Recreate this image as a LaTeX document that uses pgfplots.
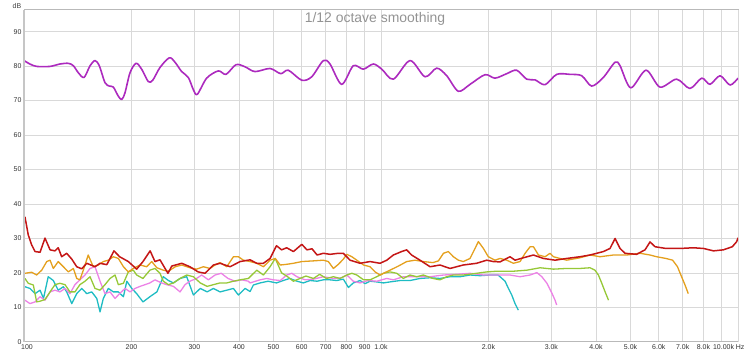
\documentclass[border=0pt]{standalone}
\usepackage{pgfplots}
\pgfplotsset{compat=1.18}
\usepackage{fontspec}
\setmainfont{Liberation Sans}
\definecolor{cMag}{RGB}{172,42,190}
\definecolor{cRed}{RGB}{196,22,22}
\definecolor{cOra}{RGB}{228,160,30}
\definecolor{cGre}{RGB}{150,200,55}
\definecolor{cPin}{RGB}{236,130,230}
\definecolor{cCya}{RGB}{30,188,195}
\begin{document}
\begin{tikzpicture}
\begin{axis}[name=ax, at={(0,0)}, anchor=south west,
  scale only axis, width=714bp, height=332bp,
  xmode=log, xmin=100, xmax=10000, ymin=0, ymax=96.3,
  xtick={100,200,300,400,500,600,700,800,900,1000,2000,3000,4000,5000,6000,7000,8000,9000},
  xticklabels={\hspace*{6bp}100,200,300,400,500,600,700,800,900,1.0k,2.0k,3.0k,4.0k,5.0k,6.0k,7.0k,8.0k,{}},
  extra x ticks={10000}, extra x tick labels={10.00k Hz},
  extra x tick style={xticklabel style={anchor=north east, xshift=10bp}},
  ytick={0,10,...,90},
  grid=major, major grid style={draw=gray!30, line width=0.8bp},
  axis line style={draw=gray!55, line width=1bp},
  major tick length=0pt, minor tick length=0pt,
  tick label style={font=\fontsize{7}{8}\selectfont, text=black!80},
  /pgf/number format/assume math mode=true,
  xticklabel style={yshift=0.5bp},
  yticklabel style={xshift=1bp},
  every axis plot/.append style={line width=1.3bp, line join=round},
]
% magenta
\addplot[cMag, line width=1.6bp, smooth, tension=0.5] coordinates {(100,81.6)(103.9,80.6)(108.5,79.9)(118.2,79.9)(126.1,80.6)(133.1,80.8)(137.5,80.1)(141.9,78.1)(147.3,76.7)(153.1,80.1)(158.1,81.6)(162.5,80.1)(168.6,75.2)(173.4,74.2)(177.9,73.9)(183.7,71.3)(187.8,70.3)(191.9,72.3)(198.2,78.1)(206,80.8)(213.6,79.1)(222.9,75.5)(229.4,75.9)(240.4,79.6)(255.3,82.4)(264.9,81.1)(276.5,78.4)(288.6,76.7)(298,73.2)(305.8,71.8)(324.9,76.5)(350.2,78.6)(368,77.6)(392.5,80.4)(415.9,79.8)(443.6,78.4)(488.7,79.3)(523.6,77.8)(550,78.8)(599.8,75.9)(639.7,76.9)(689.4,81.6)(719.7,80.6)(776.2,74.7)(836.4,80.1)(892.2,79.1)(951.5,80.6)(1005,79.1)(1083,76.2)(1206,81.6)(1328,76.9)(1432,79.4)(1528,77.2)(1646,72.7)(1776,74.7)(1956,77.5)(2086,76.5)(2250,77.8)(2399,78.8)(2559,76.2)(2701,76.0)(2881,74.6)(3106,77.6)(3383,77.6)(3650,77.2)(3892,74.2)(4195,76.7)(4524,81.1)(4672,80.1)(5005,73.7)(5525,78.8)(6046,73.9)(6733,76.2)(7337,73.5)(7914,76.5)(8348,74.7)(8906,77.2)(9497,74.5)(10000,76.5)};
% cyan
\addplot[cCya] coordinates {(100.6,16.0)(103.9,15.5)(107.4,14.0)(110.9,15.0)(113.4,12.6)(116.9,18.9)(120.8,17.8)(124.7,15.0)(128.9,16.0)(131.7,14.5)(136.1,11.1)(140.5,14.0)(145.1,15.5)(149.9,14.0)(154.8,14.5)(159.9,12.6)(163.3,8.7)(166.8,12.6)(172.3,15.5)(178.0,14.5)(183.8,14.5)(189.9,13.1)(194.1,17.6)(200.4,15.5)(206.8,14.0)(215.4,11.6)(225.2,13.1)(235.6,14.5)(245.6,18.9)(253.8,17.8)(262.2,17.1)(273.6,18.4)(285.6,18.9)(298.2,13.6)(311.7,15.5)(325.8,14.5)(339.2,15.5)(354.1,14.5)(369.9,15.0)(386.0,15.5)(398.6,13.6)(416.2,15.5)(429.8,14.6)(439.0,16.5)(458.4,17.1)(482.8,17.6)(509.6,17.1)(532.1,17.8)(555.4,18.4)(581.6,17.6)(606.1,17.1)(632.9,17.8)(662.3,17.6)(689.5,18.0)(719.9,18.0)(751.4,17.8)(784.5,18.2)(810.4,15.8)(836.4,17.1)(873.7,17.8)(902.3,16.9)(931.9,17.6)(972.6,17.4)(1016,17.1)(1060,17.4)(1131,17.8)(1206,17.8)(1286,18.4)(1372,18.6)(1463,18.4)(1561,18.9)(1665,18.9)(1776,19.4)(1894,19.2)(2020,19.4)(2127,19.4)(2155,18.9)(2226,17.6)(2275,15.5)(2324,13.6)(2374,11.1)(2425,9.2)};
% pink
\addplot[cPin] coordinates {(100.6,12.1)(103.9,11.1)(107.4,11.6)(110.9,13.1)(114.5,12.1)(118.3,14.5)(122.1,15.0)(126.1,14.5)(130.3,15.5)(134.5,14.0)(138.9,16.6)(143.4,18.0)(148.2,19.4)(153.1,21.3)(158.1,21.8)(163.3,17.6)(168.6,14.0)(174.2,14.5)(179.9,12.6)(185.3,14.0)(191.9,15.5)(198.2,14.5)(204.6,15.5)(211.4,16.1)(218.3,16.6)(225.2,17.1)(232.7,18.0)(242.9,17.1)(251.0,16.6)(262.2,16.1)(273.6,14.5)(282.5,16.6)(291.5,17.6)(304.4,18.4)(314.5,19.4)(328.5,18.0)(342.8,19.4)(356.9,19.9)(372.8,18.4)(389.9,17.6)(406.7,18.0)(425.1,17.6)(429.8,17.1)(458.4,18.0)(478.5,18.4)(499.6,18.0)(522.2,17.8)(544.3,19.4)(562.6,19.9)(581.6,18.9)(612.7,18.0)(646.8,18.2)(689.5,18.9)(735.6,18.4)(776.2,18.6)(802.2,19.4)(836.4,17.6)(873.7,17.1)(919.6,17.8)(972.6,17.6)(1038,18.4)(1083,18.0)(1155,18.9)(1259,18.9)(1372,18.9)(1496,19.4)(1630,19.6)(1776,19.9)(1936,19.4)(2107,19.4)(2298,19.4)(2452,18.9)(2616,19.4)(2733,20.1)(2822,18.9)(2916,17.0)(3012,14.1)(3073,12.1)(3105,10.7)};
% green
\addplot[cGre] coordinates {(100.6,18.4)(102.8,17.0)(106.2,16.5)(108.5,11.6)(110.9,11.8)(114.5,12.3)(118.3,14.5)(122.1,16.6)(126.1,17.0)(130.3,16.6)(134.5,14.5)(138.9,14.5)(143.4,16.6)(148.2,17.6)(153.1,18.9)(158.1,15.5)(163.3,15.0)(168.6,16.6)(174.2,18.4)(179.9,19.4)(183.8,16.6)(189.9,17.0)(196.0,20.3)(202.4,20.8)(206.8,19.4)(215.4,18.4)(225.2,20.8)(232.7,21.3)(240.4,19.9)(245.6,17.6)(253.8,16.6)(262.2,17.1)(273.6,18.4)(285.6,19.4)(298.2,18.9)(311.7,17.1)(325.8,16.1)(339.2,16.6)(354.1,17.1)(369.9,17.1)(386.0,17.6)(403.0,18.0)(425.1,18.4)(448.8,20.8)(468.4,19.4)(488.9,21.8)(505.6,24.2)(526.7,20.0)(544.3,19.1)(568.4,17.6)(593.3,18.4)(616.2,19.1)(646.8,18.4)(673.3,19.6)(703.0,18.4)(735.6,18.9)(768.0,18.4)(802.2,19.4)(828.5,19.9)(855.6,19.4)(893.7,18.0)(931.9,18.0)(972.6,18.9)(1016,19.9)(1060,20.3)(1107,19.9)(1155,18.4)(1206,19.4)(1259,18.9)(1314,19.4)(1398,18.4)(1463,18.0)(1528,18.9)(1595,19.4)(1700,19.4)(1853,19.9)(1978,20.3)(2107,20.5)(2349,20.5)(2562,20.8)(2790,21.5)(3040,21.1)(3313,21.3)(3610,21.3)(3851,21.5)(3975,20.8)(4064,19.4)(4154,17.0)(4244,14.5)(4338,12.1)};
% orange
\addplot[cOra] coordinates {(100.6,19.9)(105.1,20.2)(108.5,19.4)(112.1,20.8)(115.8,23.3)(118.3,23.7)(120.8,21.3)(124.7,23.3)(128.9,21.8)(133.1,20.3)(137.5,21.3)(140.5,18.4)(143.4,18.0)(146.6,20.8)(151.3,25.2)(156.3,21.8)(161.5,22.3)(166.8,23.3)(172.3,23.7)(178.0,24.7)(183.8,24.2)(189.9,21.8)(196.0,20.3)(202.4,21.3)(211.4,22.3)(220.6,21.8)(227.9,23.3)(235.6,21.5)(245.6,20.8)(253.8,20.5)(265.3,21.8)(276.6,22.3)(291.5,21.5)(304.4,21.1)(318.0,21.8)(331.8,21.3)(342.8,22.3)(354.1,23.0)(369.9,21.8)(386.0,24.7)(398.6,24.7)(411.7,23.7)(429.8,23.3)(448.8,22.8)(468.4,21.8)(488.9,23.7)(505.6,24.2)(522.2,22.3)(544.3,22.5)(568.4,22.8)(600.2,23.3)(646.8,23.5)(689.5,23.7)(712.1,23.3)(735.6,21.3)(759.6,22.5)(784.5,24.0)(802.2,25.4)(828.5,24.7)(855.6,23.7)(893.7,22.3)(931.9,21.8)(962.4,20.3)(994.0,19.4)(1016,19.9)(1060,20.8)(1119,22.0)(1180,23.3)(1245,23.7)(1314,23.3)(1398,23.0)(1448,23.5)(1496,25.7)(1544,26.2)(1595,24.7)(1647,23.7)(1700,23.3)(1776,24.2)(1834,27.1)(1874,29.1)(1936,27.1)(1998,24.7)(2086,23.7)(2155,24.2)(2250,23.7)(2349,22.8)(2452,23.3)(2533,25.7)(2616,27.6)(2673,27.6)(2761,25.2)(2881,24.7)(2975,25.7)(3040,24.7)(3313,23.7)(3610,24.4)(3851,25.2)(4107,24.7)(4476,25.2)(4880,25.2)(5316,25.7)(5670,25.2)(5917,24.7)(6285,24.2)(6560,23.7)(6770,21.8)(6917,19.4)(7106,16.5)(7255,14.0)};
% red
\addplot[cRed, line width=1.5bp] coordinates {(100.6,36.3)(102.8,31)(105.1,28.1)(107.4,26.2)(110.9,26.0)(114.5,30.1)(118.3,26.7)(122.1,26.4)(124.7,27.3)(127.5,24.7)(131.7,25.7)(136.1,24.0)(140.5,21.8)(145.1,21.2)(149.9,22.8)(158.1,21.8)(163.3,22.8)(170.6,22.4)(178.7,26.4)(185.3,24.7)(196.0,23.3)(206.8,21.1)(215.4,23.3)(225.6,26.4)(232.7,23.3)(240.4,23.8)(251.0,20.5)(253.1,19.9)(259.4,22.0)(276.6,22.8)(291.5,21.8)(307.5,20.3)(321.4,19.9)(339.2,22.3)(354.1,22.8)(377.8,21.8)(403.0,23.3)(429.8,23.8)(448.8,22.8)(468.4,22.8)(488.9,24.2)(509.6,27.9)(526.7,26.7)(544.3,27.3)(568.4,26.2)(600.2,28.3)(620.2,26.7)(640.9,27.0)(662.3,25.2)(689.5,25.7)(719.9,25.4)(759.6,25.7)(784.5,25.7)(819.1,23.7)(873.7,22.8)(931.9,23.3)(994.0,22.8)(1038,23.7)(1083,25.2)(1142,26.2)(1180,26.7)(1218,25.2)(1286,23.7)(1372,21.8)(1463,22.3)(1561,21.3)(1700,22.3)(1853,22.8)(1978,23.7)(2064,23.3)(2155,23.2)(2298,24.7)(2374,23.7)(2505,24.4)(2673,25.2)(2851,24.2)(3073,23.7)(3313,24.2)(3610,24.7)(3851,25.2)(4196,26.2)(4381,27.1)(4525,30.0)(4673,27.1)(4826,25.7)(5198,25.4)(5490,26.7)(5670,29.0)(5857,27.6)(6285,27.1)(6881,27.1)(7499,27.3)(8002,27.1)(8539,26.4)(9099,26.7)(9639,27.6)(9920,29.1)(10000,30.2)};
\end{axis}
\draw[gray!45, line width=2.5bp] (ax.south west) -- (ax.north west);
\node[text=gray!85, font=\fontsize{14}{16}\selectfont] at ([xshift=-6bp,yshift=-9bp]ax.north) {1/12 octave smoothing};
\node[text=black!75, font=\fontsize{7}{8}\selectfont] at ([xshift=-7bp,yshift=4bp]ax.north west) {dB};
\path ([xshift=-24bp,yshift=-14bp]ax.south west) rectangle ([xshift=12bp,yshift=8bp]ax.north east);
\end{tikzpicture}
\end{document}
